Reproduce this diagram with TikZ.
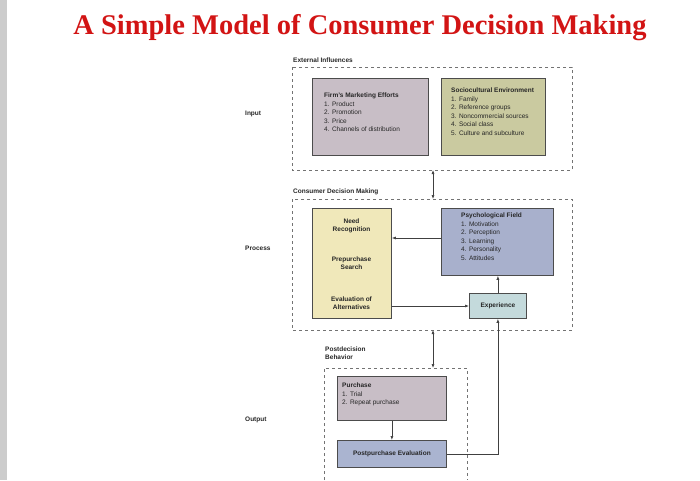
\documentclass[tikz,border=0pt]{standalone}
\usepackage{fontspec}
\setmainfont{Liberation Sans}
\newfontfamily\titlefont{Liberation Serif}
\usetikzlibrary{arrows.meta}
\begin{document}
\begin{tikzpicture}[x=1pt,y=-1pt,
  bx/.style={draw=black!70,line width=0.8pt,anchor=north west,inner sep=0pt},
  dbox/.style={draw=black!55,dashed,line width=0.6pt},
  lbl/.style={font=\fontsize{6.5}{7.5}\selectfont\bfseries,anchor=west,inner sep=0pt,text=black!85},
  txt/.style={font=\fontsize{6.5}{8.5}\selectfont,align=left,anchor=north west,inner sep=0pt,text=black!85},
  ar/.style={-{Latex[length=4pt,width=3pt]},black!75,line width=0.6pt},
  dar/.style={{Latex[length=4pt,width=3pt]}-{Latex[length=4pt,width=3pt]},black!75,line width=0.6pt}]
\useasboundingbox (0,0) rectangle (700,480);
\fill[black!20] (0,0) rectangle (7,480);
\node[font=\titlefont\fontsize{28.5}{30}\selectfont\bfseries,text={rgb,255:red,210;green,20;blue,20}] (title) at (360,28) {A Simple Model of Consumer Decision Making};
% left labels
\node[lbl] (in) at (245,114) {Input};
\node[lbl] (pr) at (245,248) {Process};
\node[lbl] (out) at (245,420) {Output};
% external
\node[lbl] (extl) at (293,60) {External Influences};
\draw[dbox] (292,67) rectangle (572,170);
\coordinate (extb) at (433,170);
\node[bx,fill={rgb,255:red,200;green,190;blue,198},minimum width=116pt,minimum height=77pt] (firm) at (312,78) {};
\node[txt] at (324,93) {\textbf{Firm's Marketing Efforts}\\1. Product\\2. Promotion\\3. Price\\4. Channels of distribution};
\node[bx,fill={rgb,255:red,202;green,202;blue,160},minimum width=104pt,minimum height=77pt] (soc) at (441,78) {};
\node[txt] at (451,88) {\textbf{Sociocultural Environment}\\1. Family\\2. Reference groups\\3. Noncommercial sources\\4. Social class\\5. Culture and subculture};
% CDM
\node[lbl] (cdml) at (293,192) {Consumer Decision Making};
\draw[dbox] (292,199) rectangle (572,330);
\coordinate (cdmt) at (433,199);
\coordinate (cdmb) at (433,330);
\draw[dar] (extb) -- (cdmt);
\node[bx,fill={rgb,255:red,240;green,232;blue,186},minimum width=79pt,minimum height=110pt] (yel) at (312,208) {};
\node[font=\fontsize{6.5}{7.5}\selectfont\bfseries,align=center,text=black!85] (need) at (351.5,226) {Need\\Recognition};
\node[font=\fontsize{6.5}{7.5}\selectfont\bfseries,align=center,text=black!85] (pre) at (351.5,263) {Prepurchase\\Search};
\node[font=\fontsize{6.5}{7.5}\selectfont\bfseries,align=center,text=black!85] (eval) at (351.5,303) {Evaluation of\\Alternatives};
\node[bx,fill={rgb,255:red,168;green,176;blue,204},minimum width=112pt,minimum height=67pt] (psy) at (441,208) {};
\node[txt] at (461,213) {\textbf{Psychological Field}\\1. Motivation\\2. Perception\\3. Learning\\4. Personality\\5. Attitudes};
\node[bx,fill={rgb,255:red,196;green,218;blue,220},minimum width=57pt,minimum height=25pt] (exp) at (469,293) {};
\node[font=\fontsize{6.5}{7}\selectfont\bfseries,text=black!85] at (exp.center) {Experience};
\draw[ar] (psy.west|-0,238) -- (yel.east|-0,238);
\draw[ar] (yel.east|-0,306) -- (exp.west|-0,306);
\draw[ar] (exp.north) -- (psy.south-|exp.north);
% post decision
\node[txt,font=\fontsize{6.5}{8}\selectfont\bfseries] (pdl) at (325,347) {Postdecision\\Behavior};
\draw[dbox] (324,480) -- (324,368) -- (467,368) -- (467,480);
\coordinate (pdt) at (433,368);
\draw[dar] (cdmb) -- (pdt);
\node[bx,fill={rgb,255:red,200;green,190;blue,198},minimum width=109pt,minimum height=44pt] (pur) at (337,376) {};
\node[txt] at (342,383) {\textbf{Purchase}\\1. Trial\\2. Repeat purchase};
\node[bx,fill={rgb,255:red,170;green,180;blue,208},minimum width=109pt,minimum height=27pt] (post) at (337,440) {};
\node[font=\fontsize{6.5}{7}\selectfont\bfseries,text=black!85] at (post.center) {Postpurchase Evaluation};
\draw[ar] (pur.south) -- (post.north);
\draw[ar] (post.east) -| (exp.south);
\end{tikzpicture}
\end{document}
